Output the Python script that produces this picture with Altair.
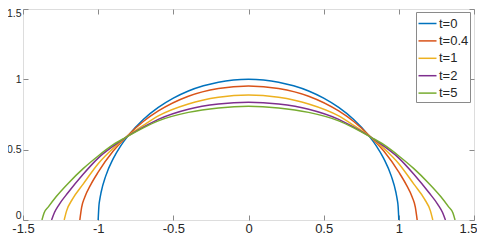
import altair as alt
import pandas as pd

# ---- data ----
t_labels = ["t=0", "t=0.4", "t=1", "t=2", "t=5"]
colors = ["#0072BD", "#D95319", "#EDB120", "#7E2F8E", "#77AC30"]

x_t0 = [-1.0, -0.995, -0.99, -0.98, -0.95, -0.9, -0.85, -0.8, -0.7, -0.6, -0.5, -0.4, -0.3, -0.2, -0.1, 0.0,
        0.1, 0.2, 0.3, 0.4, 0.5, 0.6, 0.7, 0.8, 0.85, 0.9, 0.95, 0.98, 0.99, 0.995, 1.0]
y_t0 = [0.0, 0.10, 0.141, 0.199, 0.312, 0.436, 0.527, 0.60, 0.714, 0.80, 0.866, 0.917, 0.954, 0.980, 0.995, 1.0,
        0.995, 0.980, 0.954, 0.917, 0.866, 0.80, 0.714, 0.60, 0.527, 0.436, 0.312, 0.199, 0.141, 0.10, 0.0]

x_t04 = [-1.122, -1.11, -1.09, -1.05, -1.0, -0.9, -0.815, -0.7, -0.6, -0.4, -0.2, 0.0,
         0.2, 0.4, 0.6, 0.7, 0.815, 0.9, 1.0, 1.05, 1.09, 1.11, 1.122]
y_t04 = [0.0, 0.09, 0.16, 0.25, 0.34, 0.49, 0.588, 0.70, 0.775, 0.88, 0.935, 0.953,
         0.935, 0.88, 0.775, 0.70, 0.588, 0.49, 0.34, 0.25, 0.16, 0.09, 0.0]

x_t1 = [-1.226, -1.21, -1.17, -1.1, -1.0, -0.9, -0.815, -0.7, -0.6, -0.4, -0.2, 0.0,
        0.2, 0.4, 0.6, 0.7, 0.815, 0.9, 1.0, 1.1, 1.17, 1.21, 1.226]
y_t1 = [0.0, 0.065, 0.15, 0.255, 0.40, 0.51, 0.588, 0.672, 0.74, 0.825, 0.872, 0.889,
        0.872, 0.825, 0.74, 0.672, 0.588, 0.51, 0.40, 0.255, 0.15, 0.065, 0.0]

x_t2 = [-1.31, -1.29, -1.26, -1.2, -1.1, -1.0, -0.9, -0.815, -0.7, -0.6, -0.4, -0.2, 0.0,
        0.2, 0.4, 0.6, 0.7, 0.815, 0.9, 1.0, 1.1, 1.2, 1.26, 1.29, 1.31]
y_t2 = [0.0, 0.055, 0.11, 0.195, 0.325, 0.44, 0.525, 0.588, 0.66, 0.715, 0.787, 0.824, 0.837,
        0.824, 0.787, 0.715, 0.66, 0.588, 0.525, 0.44, 0.325, 0.195, 0.11, 0.055, 0.0]

x_t5 = [-1.374, -1.36, -1.33, -1.28, -1.2, -1.1, -1.0, -0.9, -0.815, -0.7, -0.6, -0.4, -0.2, 0.0,
        0.2, 0.4, 0.6, 0.7, 0.815, 0.9, 1.0, 1.1, 1.2, 1.28, 1.33, 1.36, 1.374]
y_t5 = [0.0, 0.05, 0.095, 0.165, 0.26, 0.365, 0.455, 0.535, 0.588, 0.655, 0.705, 0.765, 0.797, 0.809,
        0.797, 0.765, 0.705, 0.655, 0.588, 0.535, 0.455, 0.365, 0.26, 0.165, 0.095, 0.05, 0.0]

x_ticks = [-1.5, -1.0, -0.5, 0.0, 0.5, 1.0, 1.5]
y_ticks = [0.0, 0.5, 1.0, 1.5]

series = [(t_labels[0], x_t0, y_t0), (t_labels[1], x_t04, y_t04), (t_labels[2], x_t1, y_t1),
          (t_labels[3], x_t2, y_t2), (t_labels[4], x_t5, y_t5)]
rows = []
for lab, xs, ys in series:
    for i, (xv, yv) in enumerate(zip(xs, ys)):
        rows.append({"x": xv, "y": yv, "t": lab, "i": i})
df = pd.DataFrame(rows)

# ---- styling ----
FONT = "Liberation Sans"
TXT = "#262626"
LINE = "#8a8a8a"
TICK = 5

x_scale = alt.Scale(domain=[-1.5, 1.5], nice=False, zero=False)
y_scale = alt.Scale(domain=[0, 1.5], nice=False, zero=False)

x_axis_bottom = alt.Axis(orient="bottom", values=x_ticks, labelExpr="toString(datum.value)",
                         offset=-TICK, tickSize=TICK, domain=False, grid=False, title=None,
                         labelPadding=2.5, labelFontSize=13, labelFont=FONT, labelColor=TXT,
                         tickColor=LINE, labelFlush=False, labelOverlap=False,
                         labelAlign={"condition": {"test": "datum.value == 1.5", "value": "right"},
                                     "value": "center"},
                         labelOffset={"condition": {"test": "datum.value == 1.5", "value": 3},
                                      "value": 0})
y_axis_left = alt.Axis(orient="left", values=y_ticks, labelExpr="toString(datum.value)",
                       offset=-TICK, tickSize=TICK, domain=False, grid=False, title=None,
                       labelPadding=2, labelFontSize=10.5, labelFont=FONT, labelColor=TXT,
                       tickColor=LINE, labelFlush=False, labelOverlap=False,
                       labelOffset={"condition": [{"test": "datum.value == 1.5", "value": 4},
                                                  {"test": "datum.value == 0", "value": -5}],
                                    "value": 0})
x_axis_top = alt.Axis(orient="top", values=x_ticks, labels=False, offset=-TICK, tickSize=TICK,
                      domain=False, grid=False, title=None, tickColor=LINE)
y_axis_right = alt.Axis(orient="right", values=y_ticks, labels=False, offset=-TICK, tickSize=TICK,
                        domain=False, grid=False, title=None, tickColor=LINE)

lines = alt.Chart(df).mark_line(strokeWidth=1.5, interpolate="monotone", clip=True).encode(
    x=alt.X("x:Q", scale=x_scale, axis=x_axis_bottom),
    y=alt.Y("y:Q", scale=y_scale, axis=y_axis_left),
    color=alt.Color("t:N", scale=alt.Scale(domain=t_labels, range=colors), sort=t_labels,
                    legend=alt.Legend(title=None, orient="none", legendX=393, legendY=3,
                                      symbolType="stroke", symbolSize=324, symbolStrokeWidth=1.5,
                                      labelFontSize=13, labelFont=FONT, labelColor=TXT,
                                      labelOffset=1.5, rowPadding=0.4, padding=1.5,
                                      strokeColor=LINE, fillColor="white")),
    order="i:Q",
)

frame = alt.Chart(df).mark_point(opacity=0).encode(
    x=alt.X("x:Q", scale=x_scale, axis=x_axis_top),
    y=alt.Y("y:Q", scale=y_scale, axis=y_axis_right),
)

chart = alt.layer(lines, frame).resolve_axis(x="independent", y="independent").properties(
    width=451, height=211,
    autosize=alt.AutoSizeParams(type="none"),
    padding={"left": 15, "top": 1, "right": 3, "bottom": 22},
).configure_view(stroke=LINE, strokeWidth=1).configure(background="white")

chart.save("out.html", embed_options={"renderer": "svg", "actions": False})
